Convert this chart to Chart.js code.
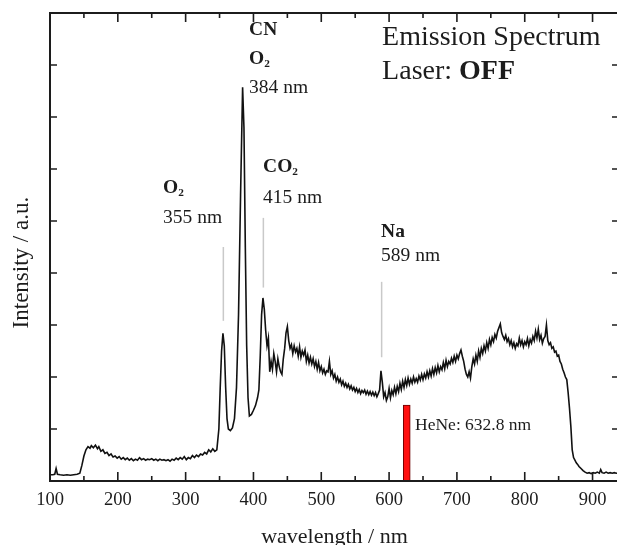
<!DOCTYPE html>
<html>
<head>
<meta charset="utf-8">
<script src="https://cdn.jsdelivr.net/npm/chart.js@4.4.1/dist/chart.umd.min.js"></script>
<style>
  html, body { margin: 0; padding: 0; background: #fff; overflow: hidden; }
  /* a little wider/taller than the window: the right frame edge and the
     x title descenders are cropped in the reference too */
  .chart-box { position: relative; width: 625px; height: 550px; }
</style>
</head>
<body>
<div class="chart-box"><canvas id="spectrum"></canvas></div>
<script>
// spectrum (intensity in tick units, a.u.)
const wavelength = [
  100, 104, 107, 109, 111, 115, 120, 125, 130, 135, 140, 144,
  147, 150, 153, 156, 159, 161, 164, 167, 170, 172, 175, 178, 181, 184, 187, 190, 193, 196, 199,
  202, 205, 208, 211, 214, 217, 220, 223, 226, 229, 232, 235, 238, 241, 244, 247, 250,
  253, 256, 259, 262, 265, 268, 271, 274, 277, 280, 283, 286, 289, 292, 295, 298,
  301, 304, 307, 310, 313, 316, 319, 322, 325, 328, 331, 334, 337, 340, 343, 346,
  349, 351, 353, 355, 357, 359, 361, 363, 366, 369, 372, 375, 378, 381, 384, 386, 388, 390, 392, 394,
  397, 400, 403, 406, 408, 410, 412, 414, 416, 418, 420, 422, 424, 426, 428, 430,
  432, 434, 436, 438, 440, 442, 444, 446, 448, 450, 452, 454, 456, 458, 460, 462, 464, 466, 468, 470,
  472, 474, 476, 478, 480, 482, 484, 486, 488, 490, 492, 494, 496, 498, 500, 502, 504, 506, 508, 510,
  512, 514, 516, 518, 520, 522, 524, 526, 528, 530, 532, 534, 536, 538, 540, 542, 544, 546, 548, 550,
  552, 554, 556, 558, 560, 562, 564, 566, 568, 570, 572, 574, 576, 578, 580, 582, 584, 586, 588, 590,
  592, 594, 596, 598, 600, 602, 604, 606, 608, 610, 612, 614, 616, 618, 620, 622, 624, 626, 628, 630,
  632, 634, 636, 638, 640, 642, 644, 646, 648, 650, 652, 654, 656, 658, 660, 662, 664, 666, 668, 670,
  672, 674, 676, 678, 680, 682, 684, 686, 688, 690, 692, 694, 696, 698, 700, 702, 704, 706, 708, 710,
  712, 714, 716, 718, 720, 722, 724, 726, 728, 730, 732, 734, 736, 738, 740, 742, 744, 746, 748, 750,
  752, 754, 756, 758, 760, 762, 764, 766, 768, 770, 772, 774, 776, 778, 780, 782, 784, 786, 788, 790,
  792, 794, 796, 798, 800, 802, 804, 806, 808, 810, 812, 814, 816, 818, 820, 822, 824, 826, 828, 830,
  832, 834, 836, 838, 840, 842, 844, 846, 848, 850, 852, 854, 856, 858, 860, 862, 864, 866, 868, 870,
  872, 874, 876, 878, 880, 883, 886, 889, 892, 895, 898, 901, 904, 907, 910, 912, 914, 917, 920, 923,
  926, 929, 932, 935, 939,
];
const intensity = [
  0.12, 0.12, 0.13, 0.24, 0.13, 0.12, 0.11, 0.12, 0.11, 0.12, 0.13, 0.15,
  0.30, 0.48, 0.60, 0.66, 0.63, 0.68, 0.64, 0.69, 0.62, 0.66, 0.57, 0.60, 0.53, 0.55, 0.49, 0.52, 0.46, 0.48, 0.44,
  0.47, 0.42, 0.45, 0.41, 0.44, 0.40, 0.43, 0.39, 0.42, 0.40, 0.45, 0.41, 0.43, 0.40, 0.42, 0.41, 0.43,
  0.40, 0.42, 0.39, 0.42, 0.40, 0.41, 0.39, 0.41, 0.38, 0.42, 0.40, 0.44, 0.41, 0.45, 0.42, 0.47,
  0.41, 0.45, 0.43, 0.49, 0.45, 0.50, 0.47, 0.52, 0.50, 0.55, 0.52, 0.60, 0.56, 0.62, 0.57, 0.60,
  1.00, 1.80, 2.50, 2.84, 2.60, 1.80, 1.20, 1.00, 0.97, 1.02, 1.20, 1.80, 3.20, 5.50, 7.57, 6.80, 4.50, 2.60, 1.60, 1.25,
  1.28, 1.36, 1.45, 1.60, 1.75, 2.40, 3.20, 3.52, 3.30, 2.90, 2.60, 2.75, 2.10, 2.30, 2.15, 2.45,
  2.30, 2.10, 2.35, 2.20, 2.10, 2.05, 2.35, 2.55, 2.85, 2.97, 2.70, 2.55, 2.62, 2.45, 2.60, 2.48, 2.55, 2.40, 2.58, 2.38,
  2.50, 2.42, 2.52, 2.30, 2.42, 2.27, 2.38, 2.25, 2.35, 2.20, 2.30, 2.15, 2.28, 2.12, 2.20, 2.08, 2.15, 2.05, 2.12, 2.10,
  2.30, 2.05, 2.12, 1.98, 2.05, 1.92, 2.00, 1.90, 1.96, 1.85, 1.92, 1.82, 1.88, 1.80, 1.86, 1.77, 1.83, 1.75, 1.80, 1.72,
  1.78, 1.70, 1.76, 1.68, 1.74, 1.70, 1.75, 1.67, 1.73, 1.66, 1.72, 1.65, 1.71, 1.64, 1.70, 1.62, 1.68, 1.75, 2.12, 1.90,
  1.62, 1.70, 1.55, 1.62, 1.78, 1.60, 1.74, 1.66, 1.80, 1.68, 1.82, 1.72, 1.88, 1.76, 1.92, 1.80, 1.95, 1.84, 1.98, 1.86,
  1.96, 1.88, 2.00, 1.90, 1.97, 1.90, 2.02, 1.94, 2.05, 1.95, 2.06, 1.98, 2.10, 2.00, 2.12, 2.02, 2.16, 2.05, 2.18, 2.08,
  2.22, 2.10, 2.20, 2.14, 2.28, 2.16, 2.32, 2.20, 2.30, 2.25, 2.36, 2.28, 2.40, 2.30, 2.42, 2.35, 2.45, 2.52, 2.40, 2.30,
  2.15, 2.05, 2.00, 2.10, 1.98, 2.20, 2.35, 2.25, 2.42, 2.30, 2.50, 2.38, 2.55, 2.45, 2.60, 2.50, 2.66, 2.55, 2.72, 2.62,
  2.76, 2.68, 2.82, 2.75, 2.88, 2.95, 3.02, 2.85, 2.78, 2.72, 2.80, 2.68, 2.74, 2.62, 2.70, 2.58, 2.66, 2.55, 2.64, 2.60,
  2.75, 2.62, 2.70, 2.58, 2.68, 2.62, 2.74, 2.60, 2.72, 2.65, 2.78, 2.70, 2.88, 2.75, 2.92, 2.72, 2.80, 2.65, 2.74, 2.78,
  3.00, 2.70, 2.62, 2.66, 2.55, 2.58, 2.48, 2.50, 2.40, 2.42, 2.30, 2.25, 2.15, 2.08, 2.00, 1.95, 1.70, 1.40, 1.05, 0.60,
  0.45, 0.40, 0.35, 0.32, 0.28, 0.24, 0.20, 0.17, 0.15, 0.16, 0.14, 0.16, 0.15, 0.17, 0.15, 0.22, 0.16, 0.15, 0.17, 0.15,
  0.16, 0.15, 0.16, 0.15, 0.16,
];

// thin grey guide lines above the labelled peaks
const markerNm = [355.6, 414.6, 589];
const markerLow = [3.08, 3.72, 2.38];
const markerHigh = [4.5, 5.06, 3.83];

// HeNe laser line (drawn where the picture puts it)
const heneNm = [626];
const heneLevel = [1.46];

// axes
const xTickLabels = [100, 200, 300, 400, 500, 600, 700, 800, 900];
const xMinorTicks = [150, 250, 350, 450, 550, 650, 750, 850, 950];
const yTickValues = [1, 2, 3, 4, 5, 6, 7, 8];
const yTitle = "Intensity / a.u.";

const SERIF = '"Liberation Serif", "Times New Roman", serif';
const INK = "#1c1c1c";

// text placed in data units: [text, style] runs, style "b" bold, "sub" subscript
const notes = [
  { nm: 393.5, v: 8.58, size: 19.5, runs: [["CN", "b"]] },
  { nm: 393.5, v: 8.02, size: 19.5, runs: [["O", "b"], ["2", "sub"]] },
  { nm: 393.5, v: 7.46, size: 19.5, runs: [["384 nm", ""]] },
  { nm: 266.7, v: 5.54, size: 19.5, runs: [["O", "b"], ["2", "sub"]] },
  { nm: 266.7, v: 4.96, size: 19.5, runs: [["355 nm", ""]] },
  { nm: 414.2, v: 5.94, size: 19.5, runs: [["CO", "b"], ["2", "sub"]] },
  { nm: 414.2, v: 5.35, size: 19.5, runs: [["415 nm", ""]] },
  { nm: 588.2, v: 4.69, size: 19.5, runs: [["Na", "b"]] },
  { nm: 588.2, v: 4.23, size: 19.5, runs: [["589 nm", ""]] },
  { nm: 589.7, v: 8.38, size: 28, runs: [["Emission Spectrum", ""]] },
  { nm: 589.7, v: 7.73, size: 28, runs: [["Laser: ", ""], ["OFF", "b"]] },
  { nm: 638.3, v: 0.98, size: 17.5, runs: [["HeNe: 632.8 nm", ""]] },
];

// Origin-style frame with inward ticks on all four sides, plus the text.
const frameTicks = {
  id: "frameTicks",
  afterDraw(chart) {
    const { ctx, chartArea: a, scales: { x, y } } = chart;
    ctx.save();
    ctx.strokeStyle = INK;
    ctx.lineWidth = 1.6;
    ctx.beginPath();
    const xt = (v, len) => {
      const px = x.getPixelForValue(v);
      if (px < a.left || px > a.right) return;
      ctx.moveTo(px, a.bottom); ctx.lineTo(px, a.bottom - len);
      ctx.moveTo(px, a.top); ctx.lineTo(px, a.top + len);
    };
    xTickLabels.forEach((v) => xt(v, 9));
    xMinorTicks.forEach((v) => xt(v, 5));
    yTickValues.forEach((v) => {
      const py = y.getPixelForValue(v);
      ctx.moveTo(a.left, py); ctx.lineTo(a.left + 7, py);
      ctx.moveTo(a.right, py); ctx.lineTo(a.right - 7, py);
    });
    ctx.stroke();
    ctx.lineWidth = 2;
    ctx.strokeRect(a.left, a.top, a.right - a.left, a.bottom - a.top);

    ctx.fillStyle = INK;
    ctx.textBaseline = "alphabetic";
    ctx.textAlign = "left";
    notes.forEach((n) => {
      let px = x.getPixelForValue(n.nm);
      const py = y.getPixelForValue(n.v);
      n.runs.forEach(([t, s]) => {
        const sub = s === "sub";
        ctx.font = `${s ? "bold " : ""}${sub ? n.size * 0.58 : n.size}px ${SERIF}`;
        ctx.fillText(t, px, sub ? py + 3 : py);
        px += ctx.measureText(t).width;
      });
    });

    // y title sits a bit below the frame's middle in the reference
    ctx.translate(22, y.getPixelForValue(4.2));
    ctx.rotate(-Math.PI / 2);
    ctx.textAlign = "center";
    ctx.textBaseline = "middle";
    ctx.font = `23px ${SERIF}`;
    ctx.fillText(yTitle, 0, 0);
    ctx.restore();
  },
};

const datasets = [
  {
    type: "line",
    label: "Emission",
    data: wavelength.map((w, i) => ({ x: w, y: intensity[i] })),
    borderColor: "#111",
    borderWidth: 1.6,
    pointRadius: 0,
    tension: 0,
    order: 1,
  },
  ...markerNm.map((nm, i) => ({
    type: "line",
    label: "marker " + nm,
    data: [{ x: nm, y: markerLow[i] }, { x: nm, y: markerHigh[i] }],
    borderColor: "#c9c9c9",
    borderWidth: 1.5,
    pointRadius: 0,
    order: 2,
  })),
  {
    type: "bar",
    label: "HeNe",
    data: heneNm.map((nm, i) => ({ x: nm, y: heneLevel[i] })),
    backgroundColor: "#ff1010",
    borderColor: "#6a0000",
    borderWidth: 1,
    barThickness: 7,
    order: 0,
  },
];

new Chart(document.getElementById("spectrum"), {
  type: "line",
  data: { datasets },
  options: {
    responsive: true,
    maintainAspectRatio: false,
    animation: false,
    layout: { padding: { top: 13, right: 6, left: 0, bottom: 0 } },
    plugins: { legend: { display: false }, tooltip: { enabled: false } },
    scales: {
      x: {
        type: "linear",
        min: 100,
        max: 939,
        offset: false,
        grid: { display: false, drawTicks: false },
        border: { display: false },
        afterBuildTicks: (s) => { s.ticks = xTickLabels.map((v) => ({ value: v })); },
        afterFit: (s) => { s.height = 69; },
        ticks: { color: INK, padding: 8, maxRotation: 0, autoSkip: false, font: { family: SERIF, size: 18.5 } },
        title: { display: true, text: "wavelength / nm", color: INK, padding: 0, font: { family: SERIF, size: 22 } },
      },
      y: {
        min: 0,
        max: 9,
        grid: { display: false, drawTicks: false },
        border: { display: false },
        ticks: { display: false },
        afterFit: (s) => { s.width = 50; },
      },
    },
  },
  plugins: [frameTicks],
});
</script>
</body>
</html>
